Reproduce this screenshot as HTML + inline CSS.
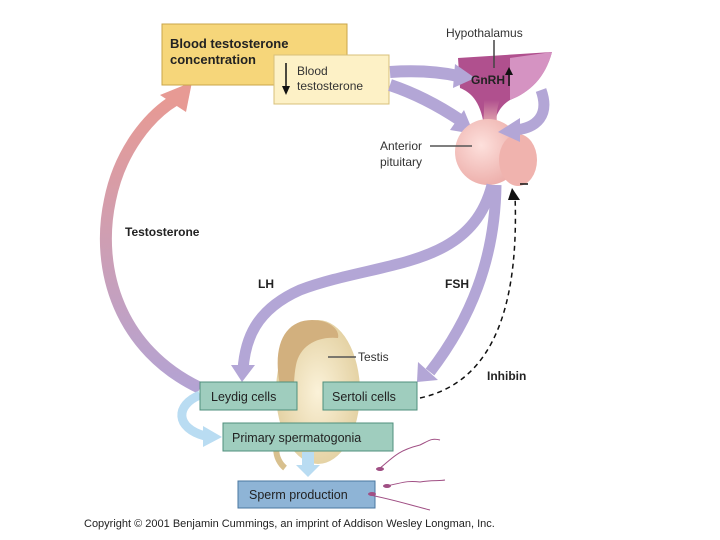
<!DOCTYPE html>
<html><head><style>
body{margin:0;background:#fff;}
svg{display:block;font-family:"Liberation Sans",sans-serif;}
</style></head><body>
<svg width="720" height="540" viewBox="0 0 720 540">
<defs>
<linearGradient id="tg" x1="0" y1="1" x2="0" y2="0">
<stop offset="0" stop-color="#b4a3d3"/><stop offset="1" stop-color="#e79a94"/></linearGradient>
<radialGradient id="pit" cx="0.4" cy="0.4" r="0.7"><stop offset="0" stop-color="#fde0dc"/><stop offset="1" stop-color="#eba9a5"/></radialGradient>
<radialGradient id="tes" cx="0.5" cy="0.5" r="0.6"><stop offset="0" stop-color="#fbf2d9"/><stop offset="1" stop-color="#e0cc9a"/></radialGradient>
<linearGradient id="stalk" x1="0" y1="0" x2="0" y2="1"><stop offset="0" stop-color="#b0508e"/><stop offset="1" stop-color="#f2c0b8"/></linearGradient>
</defs>
<path d="M200,388 C120,350 95,270 110,200 C120,150 150,115 175,100" fill="none" stroke="url(#tg)" stroke-width="12"/>
<polygon points="160,95 192,82 186,112" fill="#e79a94"/>
<rect x="162" y="24" width="185" height="61" fill="#f6d67a" stroke="#c9a54a"/>
<text x="170" y="48" font-size="13" font-weight="bold" fill="#222">Blood testosterone</text>
<text x="170" y="64" font-size="13" font-weight="bold" fill="#222">concentration</text>
<rect x="274" y="55" width="115" height="49" fill="#fdf1c6" stroke="#d8c07a"/>
<line x1="286" y1="63" x2="286" y2="90" stroke="#111" stroke-width="1.5"/><polygon points="282,86 290,86 286,95" fill="#111"/>
<text x="297" y="75" font-size="12" fill="#333">Blood</text>
<text x="297" y="90" font-size="12" fill="#333">testosterone</text>
<!-- hypothalamus -->
<path d="M458,58 L552,52 C545,78 530,92 510,100 C500,106 496,115 494,125 L484,125 C480,100 470,92 460,88 Z" fill="#b0508e"/>
<path d="M510,58 L552,52 C545,78 530,92 510,100 Z" fill="#d593c2"/>
<path d="M484,100 L500,100 C496,110 496,120 498,130 L482,130 C484,120 484,110 484,100 Z" fill="url(#stalk)"/>
<path d="M390,72 C420,70 440,72 458,76" fill="none" stroke="#b3a6d6" stroke-width="12"/>
<polygon points="455,64 475,78 453,88" fill="#b3a6d6"/>
<path d="M390,85 C420,95 445,110 460,120" fill="none" stroke="#b3a6d6" stroke-width="12"/>
<polygon points="450,130 474,134 464,110" fill="#b3a6d6"/>
<line x1="494" y1="40" x2="494" y2="68" stroke="#444" stroke-width="1.5"/>
<text x="446" y="37" font-size="12" fill="#333">Hypothalamus</text>
<text x="471" y="84" font-size="12" font-weight="bold" fill="#222">GnRH</text>
<line x1="509" y1="72" x2="509" y2="86" stroke="#111" stroke-width="1.5"/><polygon points="505,75 513,75 509,67" fill="#111"/>
<!-- pituitary -->
<ellipse cx="488" cy="152" rx="33" ry="33" fill="url(#pit)"/>
<ellipse cx="518" cy="160" rx="19" ry="26" fill="#f0b3ae"/>
<path d="M541,90 C550,115 537,128 515,130" fill="none" stroke="#b3a6d6" stroke-width="11"/>
<polygon points="520,118 498,132 520,142" fill="#b3a6d6"/>
<line x1="430" y1="146" x2="472" y2="146" stroke="#555" stroke-width="1.5"/>
<text x="380" y="150" font-size="12" fill="#333">Anterior</text>
<text x="380" y="166" font-size="12" fill="#333">pituitary</text>
<path d="M492,185 C470,270 380,260 300,290 C255,310 245,340 243,370" fill="none" stroke="#b3a6d6" stroke-width="11"/>
<polygon points="231,365 255,365 242,382" fill="#b3a6d6"/>
<path d="M496,185 C495,260 470,320 430,372" fill="none" stroke="#b3a6d6" stroke-width="11"/>
<polygon points="418,362 438,380 417,382" fill="#b3a6d6"/>
<text x="258" y="288" font-size="12" font-weight="bold" fill="#222">LH</text>
<text x="445" y="288" font-size="12" font-weight="bold" fill="#222">FSH</text>
<text x="125" y="236" font-size="12" font-weight="bold" fill="#222">Testosterone</text>
<path d="M420,398 C480,385 520,330 515,195" fill="none" stroke="#111" stroke-width="1.5" stroke-dasharray="5,4"/>
<polygon points="508,200 520,200 512,188" fill="#111"/>
<line x1="520" y1="184" x2="528" y2="184" stroke="#111" stroke-width="1.5"/>
<text x="487" y="380" font-size="12" font-weight="bold" fill="#222">Inhibin</text>
<!-- testis -->
<path d="M290,430 C270,440 275,460 285,468" fill="none" stroke="#d8c08e" stroke-width="6"/>
<ellipse cx="318" cy="392" rx="42" ry="72" fill="url(#tes)"/>
<path d="M280,385 C272,345 285,320 312,320 C330,320 340,330 338,338 C318,336 300,345 296,365 C294,375 294,385 294,390 Z" fill="#d2b07e"/>
<line x1="328" y1="357" x2="356" y2="357" stroke="#555" stroke-width="1.5"/>
<text x="358" y="361" font-size="12" fill="#333">Testis</text>
<path d="M200,395 C175,405 175,428 205,436" fill="none" stroke="#b9dcf2" stroke-width="9"/>
<polygon points="203,426 222,437 203,447" fill="#b9dcf2"/>
<rect x="302" y="452" width="12" height="14" fill="#b9dcf2"/><polygon points="296,465 320,465 308,477" fill="#b9dcf2"/>
<rect x="200" y="382" width="97" height="28" fill="#9fcdbe" stroke="#4f8f7c"/>
<text x="211" y="401" font-size="12.5" fill="#222">Leydig cells</text>
<rect x="323" y="382" width="94" height="28" fill="#9fcdbe" stroke="#4f8f7c"/>
<text x="332" y="401" font-size="12.5" fill="#222">Sertoli cells</text>
<rect x="223" y="423" width="170" height="28" fill="#9fcdbe" stroke="#4f8f7c"/>
<text x="232" y="442" font-size="12.5" fill="#222">Primary spermatogonia</text>
<rect x="238" y="481" width="137" height="27" fill="#8eb4d6" stroke="#4a77a0"/>
<text x="249" y="499" font-size="12.5" fill="#222">Sperm production</text>
<g fill="none" stroke="#a04f84" stroke-width="1">
<path d="M378,470 C395,455 400,450 420,445 C430,440 432,438 440,440"/>
<path d="M385,486 C400,484 405,480 420,482 C430,480 440,481 445,480"/>
<path d="M370,495 C395,500 410,505 430,510"/>
</g>
<ellipse cx="380" cy="469" rx="4" ry="2" fill="#a04f84"/><ellipse cx="387" cy="486" rx="4" ry="2" fill="#a04f84"/><ellipse cx="372" cy="494" rx="4" ry="2" fill="#a04f84"/>
<text x="84" y="527" font-size="11" fill="#222">Copyright © 2001 Benjamin Cummings, an imprint of Addison Wesley Longman, Inc.</text>
</svg>
</body></html>
